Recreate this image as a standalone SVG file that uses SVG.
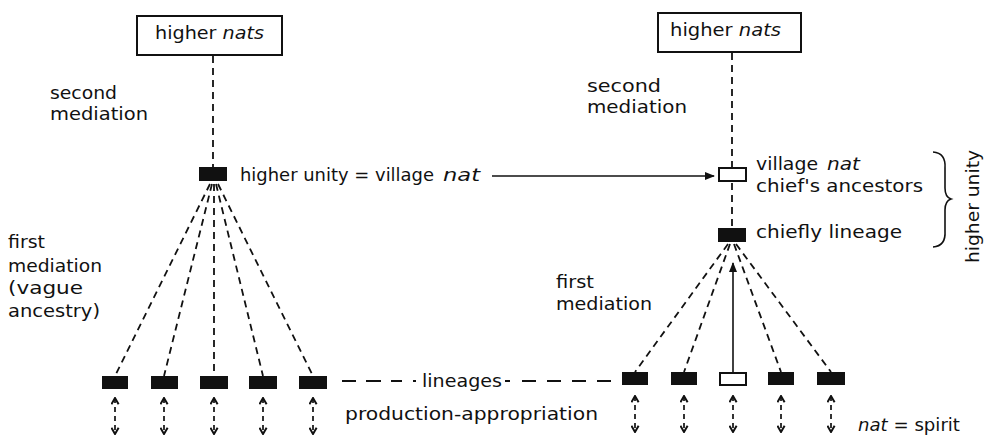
<svg xmlns="http://www.w3.org/2000/svg" width="990" height="439" viewBox="0 0 990 439">
  <style>
    text { font-family: "DejaVu Sans", "Liberation Sans", sans-serif; font-size: 17px; fill: #111; }
    .it { font-style: italic; }
    .frame { fill: #fff; stroke: #111; stroke-width: 2; }
    .solid { fill: #111; }
    .hollow { fill: #fff; stroke: #111; stroke-width: 2; }
    .dash { stroke: #111; stroke-width: 1.8; stroke-dasharray: 7 5; fill: none; }
    .line { stroke: #111; stroke-width: 1.6; fill: none; }
    .dbl { stroke: #111; stroke-width: 1.7; stroke-dasharray: 5 4; fill: none; marker-start: url(#chev); marker-end: url(#chev); }
  </style>
  <defs>
    <marker id="tip" viewBox="0 0 10 10" refX="9" refY="5" markerWidth="10" markerHeight="10" markerUnits="userSpaceOnUse" orient="auto">
      <path d="M0,1 L10,5 L0,9 Z" fill="#111"/>
    </marker>
    <marker id="chev" viewBox="0 0 10 10" refX="9" refY="5" markerWidth="9" markerHeight="9" markerUnits="userSpaceOnUse" orient="auto-start-reverse">
      <path d="M2,1 L9,5 L2,9" fill="none" stroke="#111" stroke-width="2.2"/>
    </marker>
  </defs>

  <!-- connectors -->
  <g id="connectors">
    <!-- left hierarchy -->
    <line class="dash" x1="213" y1="56" x2="213" y2="167"/>
    <line class="dash" x1="210" y1="184" x2="115" y2="376"/>
    <line class="dash" x1="212" y1="184" x2="164" y2="376"/>
    <line class="dash" x1="214" y1="184" x2="214" y2="376"/>
    <line class="dash" x1="216" y1="184" x2="263" y2="376"/>
    <line class="dash" x1="218" y1="184" x2="313" y2="376"/>
    <!-- right hierarchy -->
    <line class="dash" x1="732" y1="53" x2="732" y2="168"/>
    <line class="dash" x1="732" y1="183" x2="732" y2="228"/>
    <line class="dash" x1="728" y1="244" x2="635" y2="372"/>
    <line class="dash" x1="730" y1="244" x2="684" y2="372"/>
    <line class="dash" x1="734" y1="244" x2="781" y2="372"/>
    <line class="dash" x1="736" y1="244" x2="831" y2="372"/>
    <line class="line" x1="733" y1="372" x2="733" y2="263" marker-end="url(#tip)"/>
    <!-- village nat transfer -->
    <line class="line" x1="492" y1="176" x2="714" y2="176" marker-end="url(#tip)"/>
    <!-- lineages row -->
    <line class="dash" style="stroke-dasharray: 14 10 15 10 11 11 3 100" x1="342" y1="381" x2="419" y2="381"/>
    <line class="dash" style="stroke-dasharray: 5 12 14 11 14 11 14 11 14 100" x1="505" y1="381" x2="614" y2="381"/>
    <!-- production-appropriation -->
    <line class="dbl" x1="115" y1="398" x2="115" y2="434"/>
    <line class="dbl" x1="164" y1="398" x2="164" y2="434"/>
    <line class="dbl" x1="214" y1="398" x2="214" y2="434"/>
    <line class="dbl" x1="263" y1="398" x2="263" y2="434"/>
    <line class="dbl" x1="313" y1="398" x2="313" y2="434"/>
    <line class="dbl" x1="635" y1="396" x2="635" y2="432"/>
    <line class="dbl" x1="684" y1="396" x2="684" y2="432"/>
    <line class="dbl" x1="733" y1="396" x2="733" y2="432"/>
    <line class="dbl" x1="781" y1="396" x2="781" y2="432"/>
    <line class="dbl" x1="831" y1="396" x2="831" y2="432"/>
  </g>

  <!-- left side -->
  <g id="left-higher-nats">
    <rect class="frame" x="137" y="16" width="145" height="39"/>
    <text x="155" y="39" textLength="109" lengthAdjust="spacingAndGlyphs">higher <tspan class="it">nats</tspan></text>
  </g>
  <g id="left-second-mediation">
    <text x="50" y="99" textLength="67" lengthAdjust="spacingAndGlyphs">second</text>
    <text x="50" y="120" textLength="98" lengthAdjust="spacingAndGlyphs">mediation</text>
  </g>
  <g id="left-higher-unity">
    <rect class="solid" x="199" y="167" width="28" height="14"/>
    <text x="240" y="181" textLength="194" lengthAdjust="spacingAndGlyphs">higher unity = village</text>
    <text class="it" x="443" y="181" textLength="37" lengthAdjust="spacingAndGlyphs">nat</text>
  </g>
  <g id="left-first-mediation">
    <text x="8" y="248" textLength="37" lengthAdjust="spacingAndGlyphs">first</text>
    <text x="8" y="272" textLength="94" lengthAdjust="spacingAndGlyphs">mediation</text>
    <text x="8" y="294" textLength="75" lengthAdjust="spacingAndGlyphs">(vague</text>
    <text x="8" y="317" textLength="92" lengthAdjust="spacingAndGlyphs">ancestry)</text>
  </g>
  <g id="left-lineages">
    <rect class="solid" x="102" y="376" width="26" height="13"/>
    <rect class="solid" x="151" y="376" width="27" height="13"/>
    <rect class="solid" x="200" y="376" width="28" height="13"/>
    <rect class="solid" x="249" y="376" width="28" height="13"/>
    <rect class="solid" x="299" y="376" width="28" height="13"/>
  </g>

  <!-- centre labels -->
  <g id="lineages-label">
    <text x="422" y="387" textLength="80" lengthAdjust="spacingAndGlyphs">lineages</text>
  </g>
  <g id="production-label">
    <text x="345" y="420" textLength="253" lengthAdjust="spacingAndGlyphs">production-appropriation</text>
  </g>

  <!-- right side -->
  <g id="right-higher-nats">
    <rect class="frame" x="658" y="13" width="143" height="39"/>
    <text x="670" y="36" textLength="111" lengthAdjust="spacingAndGlyphs">higher <tspan class="it">nats</tspan></text>
  </g>
  <g id="right-second-mediation">
    <text x="587" y="92" textLength="74" lengthAdjust="spacingAndGlyphs">second</text>
    <text x="587" y="113" textLength="100" lengthAdjust="spacingAndGlyphs">mediation</text>
  </g>
  <g id="right-village-nat">
    <rect class="hollow" x="719" y="168" width="27" height="13"/>
    <text x="756" y="170" textLength="62" lengthAdjust="spacingAndGlyphs">village</text>
    <text class="it" x="827" y="170" textLength="33" lengthAdjust="spacingAndGlyphs">nat</text>
    <text x="756" y="192" textLength="167" lengthAdjust="spacingAndGlyphs">chief's ancestors</text>
  </g>
  <g id="right-chiefly-lineage">
    <rect class="solid" x="718" y="228" width="28" height="14"/>
    <text x="756" y="238" textLength="146" lengthAdjust="spacingAndGlyphs">chiefly lineage</text>
  </g>
  <g id="right-higher-unity-brace">
    <path class="line" d="M933,152 Q946,153 945,168 L945,188 Q945,197 951,199 Q945,201 945,210 L945,231 Q946,246 933,247"/>
    <text transform="translate(979,263) rotate(-90)" x="0" y="0" textLength="113" lengthAdjust="spacingAndGlyphs">higher unity</text>
  </g>
  <g id="right-first-mediation">
    <text x="556" y="288" textLength="38" lengthAdjust="spacingAndGlyphs">first</text>
    <text x="556" y="310" textLength="96" lengthAdjust="spacingAndGlyphs">mediation</text>
  </g>
  <g id="right-lineages">
    <rect class="solid" x="622" y="372" width="26" height="13"/>
    <rect class="solid" x="671" y="372" width="26" height="13"/>
    <rect class="hollow" x="720" y="373" width="26" height="12"/>
    <rect class="solid" x="768" y="372" width="26" height="13"/>
    <rect class="solid" x="817" y="372" width="28" height="13"/>
  </g>

  <!-- legend -->
  <g id="legend">
    <text x="858" y="431" textLength="102" lengthAdjust="spacingAndGlyphs"><tspan class="it">nat</tspan> = spirit</text>
  </g>
</svg>
